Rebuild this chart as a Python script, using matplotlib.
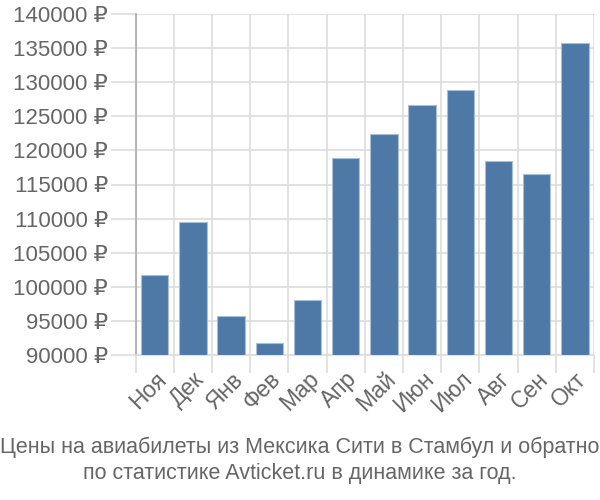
import numpy as np
import matplotlib.pyplot as plt
import matplotlib.transforms as mtransforms
from matplotlib.ticker import FixedLocator, FuncFormatter

plt.rcParams['font.family'] = ['Liberation Sans', 'DejaVu Sans']

months = ['Ноя', 'Дек', 'Янв', 'Фев', 'Мар', 'Апр', 'Май', 'Июн', 'Июл', 'Авг', 'Сен', 'Окт']
prices = [101800, 109500, 95700, 91700, 98100, 118900, 122400, 126700, 128900, 118400, 116600, 135700]
y_ticks = list(range(90000, 140001, 5000))
caption = 'Цены на авиабилеты из Мексика Сити в Стамбул и обратно\nпо статистике Avticket.ru в динамике за год.'

text_col = '#666666'
grid_col = '#dddddd'

fig = plt.figure(figsize=(6, 5), dpi=100)
ax = fig.add_axes([0.226, 0.29, 0.764, 0.682])

x = np.arange(len(months))
ax.bar(x, np.array(prices) - 90000, bottom=90000, width=0.72,
       color='#4e79a7', edgecolor='#a9bfd6', linewidth=0.8, zorder=3)

ax.set_xlim(-0.5, len(months) - 0.5)
ax.set_ylim(90000, 140000)

ax.set_yticks(y_ticks)
ax.yaxis.set_major_formatter(FuncFormatter(lambda v, p: f'{int(v)} ₽'))
ax.set_xticks(x)
ax.set_xticklabels(months, rotation=45, ha='right', rotation_mode='anchor')
ax.xaxis.set_minor_locator(FixedLocator(np.arange(-0.5, len(months), 1)))

shift = mtransforms.ScaledTranslation(-8 / 72, 0, fig.dpi_scale_trans)
for lbl in ax.get_xticklabels():
    lbl.set_transform(lbl.get_transform() + shift)

ax.grid(True, axis='y', color=grid_col, linewidth=1.2, zorder=0)
ax.grid(True, axis='x', which='minor', color=grid_col, linewidth=1.2, zorder=0)
ax.tick_params(axis='y', length=18, color=grid_col, width=1.2, labelsize=16,
               labelcolor=text_col, pad=2)
ax.tick_params(axis='x', which='major', length=0, labelsize=16.5, labelcolor=text_col, pad=9)
ax.tick_params(axis='x', which='minor', length=13, color=grid_col, width=1.2)

for s in ['top', 'right']:
    ax.spines[s].set_visible(False)
ax.spines['left'].set_color('#aaaaaa')
ax.spines['left'].set_linewidth(1.2)
ax.spines['bottom'].set_color(grid_col)
ax.spines['bottom'].set_linewidth(1.2)

fig.text(0.5, 0.079, caption, ha='center', va='center', fontsize=15.5,
         color=text_col, linespacing=1.32)

fig.savefig('out.png', dpi=100)
